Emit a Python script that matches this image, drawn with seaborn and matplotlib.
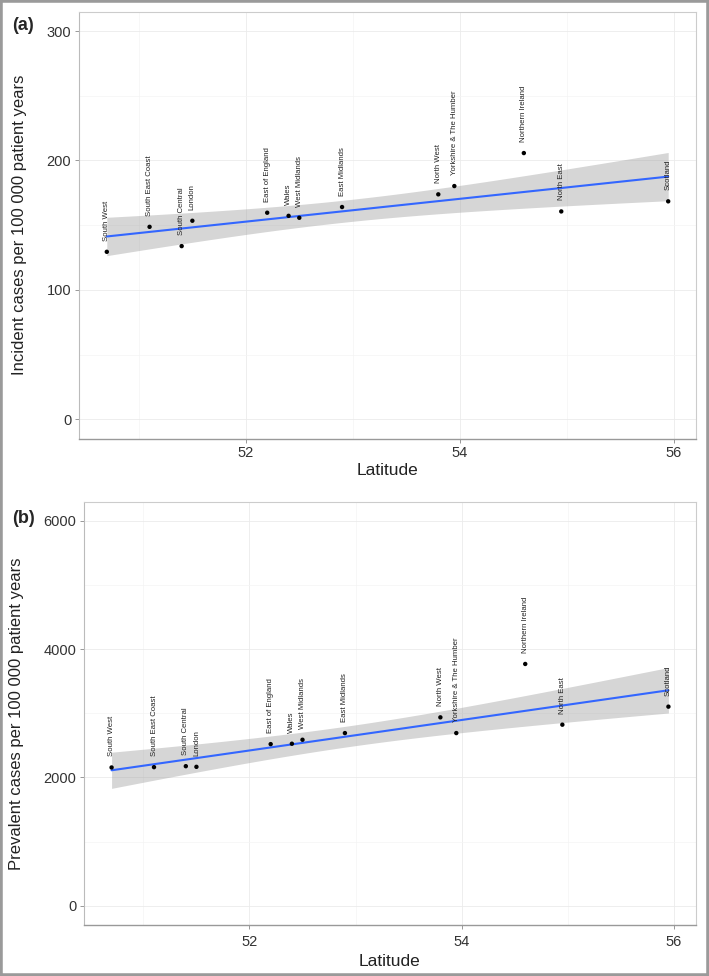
import matplotlib
matplotlib.use("Agg")
import matplotlib.pyplot as plt
import seaborn as sns
import numpy as np
import pandas as pd
from matplotlib.ticker import MultipleLocator
from matplotlib.patches import Rectangle

regions = ["South West", "South East Coast", "South Central", "London",
           "East of England", "Wales", "West Midlands", "East Midlands",
           "North West", "Yorkshire & The Humber", "Northern Ireland",
           "North East", "Scotland"]
latitude = [50.70, 51.10, 51.40, 51.50, 52.20, 52.40, 52.50, 52.90,
            53.80, 53.95, 54.60, 54.95, 55.95]
incidence = [129.4, 148.7, 133.8, 153.4, 159.6, 157.2, 155.7, 164.0,
             173.8, 180.2, 205.7, 160.6, 168.4]
prevalence = [2155, 2160, 2175, 2165, 2519, 2525, 2587, 2691,
              2936, 2691, 3768, 2822, 3103]

df = pd.DataFrame({"region": regions, "lat": latitude,
                   "inc": incidence, "prev": prevalence})

sns.set_theme(style="white")
plt.rcParams["font.family"] = ["Liberation Sans", "DejaVu Sans"]

fig = plt.figure(figsize=(7.09, 9.76), dpi=100)
W, H = 709, 976

def make_ax(left, top, right, bottom):
    return fig.add_axes([left / W, 1 - bottom / H, (right - left) / W, (bottom - top) / H])

ax_a = make_ax(79, 11.6, 696, 438.7)
ax_b = make_ax(84, 501.5, 696, 925)

panels = [
    (ax_a, "inc", "Incident cases per 100 000 patient years", (-15, 315), 100, 50, 2.5, 2),
    (ax_b, "prev", "Prevalent cases per 100 000 patient years", (-300, 6300), 2000, 1000, 4.0, 4),
]

T975 = 2.201  # t quantile, 11 degrees of freedom

for ax, col, ylabel, ylim, major, minor, tpad, xlpad in panels:
    # analytic 95% confidence band of the linear fit (as in ggplot's geom_smooth)
    x = df["lat"].to_numpy(float)
    y = df[col].to_numpy(float)
    b1, b0 = np.polyfit(x, y, 1)
    resid = y - (b0 + b1 * x)
    s = np.sqrt((resid ** 2).sum() / (len(x) - 2))
    xs = np.linspace(x.min(), x.max(), 100)
    se = s * np.sqrt(1 / len(x) + (xs - x.mean()) ** 2 / ((x - x.mean()) ** 2).sum())
    yh = b0 + b1 * xs
    ax.fill_between(xs, yh - T975 * se, yh + T975 * se, color="#999999",
                    alpha=0.4, lw=0, zorder=2)
    sns.regplot(data=df, x="lat", y=col, ax=ax, scatter=False, ci=None,
                truncate=True, color="#3366FF",
                line_kws={"lw": 1.5, "zorder": 3})
    sns.scatterplot(data=df, x="lat", y=col, ax=ax, color="black", s=10,
                    edgecolor="none", zorder=4)
    for r, xx, yy in zip(df["region"], df["lat"], df[col]):
        ax.annotate(r, (xx, yy), xytext=(0, 8), textcoords="offset points",
                    rotation=90, ha="center", va="bottom", fontsize=5.6,
                    color="#222222", zorder=5)
    ax.set_xlim(50.44, 56.21)
    ax.set_ylim(*ylim)
    ax.xaxis.set_major_locator(MultipleLocator(2))
    ax.xaxis.set_minor_locator(MultipleLocator(1))
    ax.yaxis.set_major_locator(MultipleLocator(major))
    ax.yaxis.set_minor_locator(MultipleLocator(minor))
    ax.grid(which="major", color="#EBEBEB", lw=0.6)
    ax.grid(which="minor", color="#F4F4F4", lw=0.5)
    ax.set_axisbelow(True)
    ax.tick_params(which="major", direction="out", length=3, width=0.6,
                   color="#888888", labelsize=10.5, labelcolor="#333333", pad=2.5,
                   bottom=True, left=True)
    ax.tick_params(axis="x", which="major", pad=tpad)
    ax.tick_params(which="minor", length=0)
    for sp in ["top", "right"]:
        ax.spines[sp].set_color("#CCCCCC")
        ax.spines[sp].set_linewidth(0.8)
    ax.spines["left"].set_color("#BBBBBB")
    ax.spines["left"].set_linewidth(0.8)
    ax.spines["bottom"].set_color("#999999")
    ax.spines["bottom"].set_linewidth(1.0)
    ax.set_xlabel("Latitude", fontsize=12.5, color="#222222", labelpad=xlpad)
    ax.set_ylabel(ylabel, fontsize=12, color="#222222", labelpad=14)

fig.text(12 / W, 1 - 30 / H, "(a)", fontsize=13, fontweight="bold", va="baseline", ha="left")
fig.text(12 / W, 1 - 523 / H, "(b)", fontsize=13, fontweight="bold", va="baseline", ha="left")

fig.patches.append(Rectangle((0, 0), 1, 1, transform=fig.transFigure, fill=False,
                             edgecolor="#9A9A9A", lw=4, zorder=10))

fig.savefig("out.png", dpi=100)
